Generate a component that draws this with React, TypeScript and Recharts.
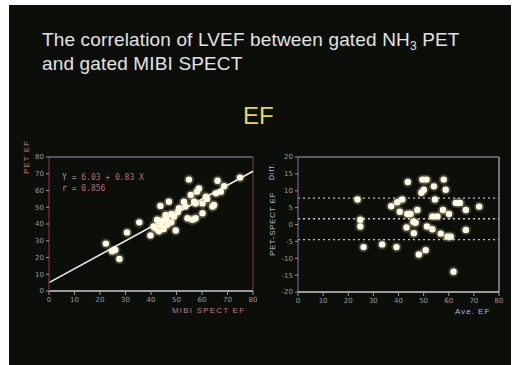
import { ScatterChart, Scatter, XAxis, YAxis, ReferenceLine } from "recharts";

// ── Data ─────────────────────────────────────────────────────────────────────
const efTicks = [0, 10, 20, 30, 40, 50, 60, 70, 80];
const diffTicks = [-20, -15, -10, -5, 0, 5, 10, 15, 20];

// left panel: MIBI SPECT EF (x) vs PET EF (y)
const spectEf = [
    22.3, 24.7, 26, 27.6, 30.6, 35.4, 39.8, 41.8, 42.4, 43.1, 43.7, 43.7, 45.7, 46.4, 47, 49,
    49.7, 51, 52.9, 54.3, 54.9, 55.6, 56.9, 56.2, 57.5, 57.5, 58, 58.8, 60.2, 60.2, 61.5, 64.1,
    64.7, 65.4, 66.1, 67.4, 68.7, 74.9, 44.5, 45, 48, 50.5, 53.5, 48, 44, 46, 62, 41,
];
const petEf = [
    28.3, 23.7, 24.5, 19.1, 35, 41, 33.2, 37.5, 42.5, 35.6, 39.5, 50.8, 45.4, 39.5, 53.3, 44.4,
    36.1, 49.4, 53.3, 43.4, 66.5, 57.3, 53.3, 42.5, 43.4, 52.3, 59.3, 61.2, 46.4, 52.3, 56.3, 50.4,
    51.4, 58.3, 65.8, 59.3, 62.6, 67.7, 42, 37, 41, 47, 50.5, 46, 41, 43, 55, 38.5,
];
const regLine = [
    { x: 0, y: 5 },
    { x: 80, y: 71.5 },
];

// right panel: average EF (x) vs difference (y)
const avgEf = [
    23.7, 24.8, 24.8, 26.1, 33.5, 37.1, 39.2, 39.5, 40.5, 41.5, 43.2, 43.5, 43.7, 44.8, 45.9,
    46.8, 46.1, 47.5, 48.1, 49.1, 49.5, 50.1, 50.8, 51.2, 51.3, 53.5, 53.5, 54.1, 54.5, 55.5,
    56.8, 57.7, 58, 58.8, 59.5, 60.1, 60.8, 61.9, 62.8, 64.5, 66.8, 66.8, 72.1,
];
const diffEf = [
    7.4, 1.4, -0.6, -6.7, -5.9, 5.4, -6.7, 6.6, 3.8, 7.4, -0.9, 3.1, 12.6, 3.1, 0.8, 0.5, -2.6,
    4.3, -8.9, 9.4, 13.3, 10.3, -7.6, 13.3, -0.6, -1.4, 2.4, 11.3, 7.4, 2.4, -2.7, 4.3, 13.3,
    10.3, -3.6, 3.1, -3.6, -14, 6.4, 6.4, 4.3, -1.6, 5.3,
];
const meanDiff = 1.7;
const limits = [7.8, -4.5];

const leftData = spectEf.map((x, i) => ({ x, y: petEf[i] }));
const rightData = avgEf.map((x, i) => ({ x, y: diffEf[i] }));

// ── Styling bits ─────────────────────────────────────────────────────────────
const tickStyle = { fill: "#9a9a9a", fontSize: 7, fontFamily: "DejaVu Sans" };

function GlowDot({ cx, cy }: any) {
    if (cx == null || cy == null) return null;
    return (
        <g>
            <circle cx={cx} cy={cy} r={5.2} fill="#fff3b0" opacity={0.22} />
            <circle cx={cx} cy={cy} r={3.2} fill="#fffbe8" />
        </g>
    );
}

const abs = (left: number, top: number, extra: any = {}) => ({
    position: "absolute" as const,
    left,
    top,
    ...extra,
});

export default function App() {
    return (
        <div style={abs(0, 0, { width: 514, height: 365, background: "#ffffff", fontFamily: "Liberation Sans, Arial, sans-serif" })}>
            <div style={abs(9, 5, { width: 502, height: 360, background: "#0c0e0a" })} />

            {/* title */}
            <div style={abs(42, 29, { color: "#e2e2e2", fontSize: 19, letterSpacing: 0.15, lineHeight: "21px", whiteSpace: "nowrap" })}>
                The correlation of LVEF between gated NH
                <span style={{ fontSize: 12, position: "relative", top: 4 }}>3</span> PET
                <br />
                and gated MIBI SPECT
            </div>
            <div style={abs(243, 102, { color: "#e8d64c", fontSize: 24 })}>EF</div>

            {/* left panel */}
            <div style={abs(0, 140)}>
                <ScatterChart width={271} height={190} margin={{ top: 17, right: 18, bottom: 14, left: 0 }}>
                    <XAxis
                        type="number"
                        dataKey="x"
                        domain={[0, 80]}
                        ticks={efTicks}
                        tick={tickStyle}
                        tickSize={4}
                        tickLine={{ stroke: "#9a9a9a" }}
                        axisLine={{ stroke: "#c4cece", strokeWidth: 1.5 }}
                        height={25}
                    />
                    <YAxis
                        type="number"
                        dataKey="y"
                        domain={[0, 80]}
                        ticks={efTicks}
                        tick={tickStyle}
                        tickSize={3}
                        tickLine={{ stroke: "#9a9a9a" }}
                        axisLine={{ stroke: "#8a2a3c", strokeWidth: 1.2 }}
                        width={49}
                    />
                    <ReferenceLine y={80} stroke="#9c9cb0" strokeWidth={1.2} />
                    <ReferenceLine x={80} stroke="#8a3a46" strokeWidth={1} />
                    <ReferenceLine segment={regLine} stroke="#e6ece8" strokeWidth={1.6} />
                    <Scatter data={leftData} shape={<GlowDot />} isAnimationActive={false} />
                </ScatterChart>
            </div>
            <div style={abs(62, 172, { fontFamily: "DejaVu Sans Mono", fontSize: 8, lineHeight: "11px", color: "#b86a7a", whiteSpace: "pre" })}>
                <span style={{ color: "#a0a0a0" }}>Y = </span>6.03 + 0.83 X
                <br />
                <span style={{ color: "#a0a0a0" }}>r = </span>0.856
            </div>
            <div style={abs(172, 306, { fontSize: 8, letterSpacing: 1.2, color: "#c07a88", whiteSpace: "nowrap" })}>
                MIBI SPECT EF
            </div>
            <div style={abs(22, 174, { fontSize: 8, letterSpacing: 1, color: "#c07a88", whiteSpace: "nowrap", transform: "rotate(-90deg)", transformOrigin: "0 0" })}>
                PET EF
            </div>

            {/* right panel */}
            <div style={abs(250, 140)}>
                <ScatterChart width={262} height={190} margin={{ top: 17, right: 13, bottom: 13, left: 0 }}>
                    <XAxis
                        type="number"
                        dataKey="x"
                        domain={[0, 80]}
                        ticks={efTicks}
                        tick={tickStyle}
                        tickSize={4}
                        tickLine={{ stroke: "#9a9a9a" }}
                        axisLine={{ stroke: "#c4cece", strokeWidth: 1.5 }}
                        height={25}
                    />
                    <YAxis
                        type="number"
                        dataKey="y"
                        domain={[-20, 20]}
                        ticks={diffTicks}
                        tick={tickStyle}
                        tickSize={3}
                        tickLine={{ stroke: "#9a9a9a" }}
                        axisLine={{ stroke: "#7a5a9a", strokeWidth: 1.2 }}
                        width={48}
                    />
                    <ReferenceLine y={20} stroke="#a8a8b4" strokeWidth={1.2} />
                    <ReferenceLine x={80} stroke="#b8b8b8" strokeWidth={1.2} />
                    <ReferenceLine y={meanDiff} stroke="#d0d0d0" strokeDasharray="2 3" strokeWidth={1.3} />
                    {limits.map((v) => (
                        <ReferenceLine key={v} y={v} stroke="#c0c0c0" strokeDasharray="2 3" strokeWidth={1.3} />
                    ))}
                    <Scatter data={rightData} shape={<GlowDot />} isAnimationActive={false} />
                </ScatterChart>
            </div>
            <div style={abs(455, 307, { fontSize: 8, letterSpacing: 1, color: "#b0b8d0", whiteSpace: "nowrap" })}>
                Ave. EF
            </div>
            <div style={abs(268, 180, { fontSize: 7, letterSpacing: 1, color: "#b0b8d0", whiteSpace: "nowrap", transform: "rotate(-90deg)", transformOrigin: "0 0" })}>
                Diff.
            </div>
            <div style={abs(268, 256, { fontSize: 8, letterSpacing: 0.6, color: "#b0b8d0", whiteSpace: "nowrap", transform: "rotate(-90deg)", transformOrigin: "0 0" })}>
                PET-SPECT EF
            </div>
        </div>
    );
}
